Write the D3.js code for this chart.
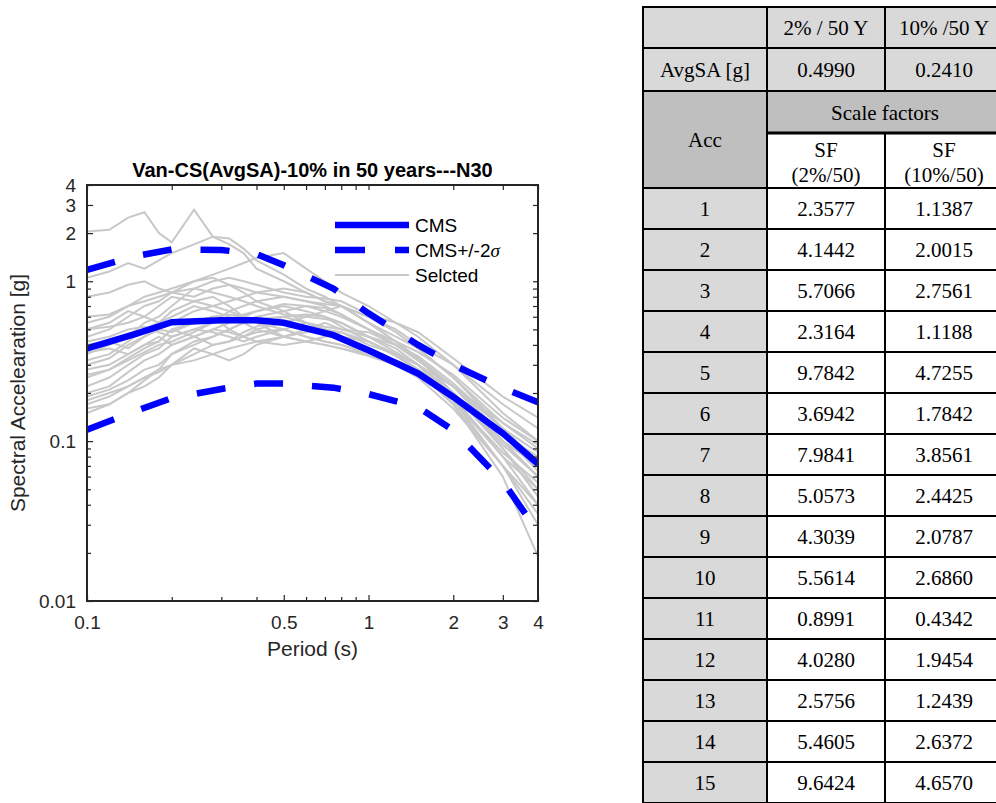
<!DOCTYPE html>
<html>
<head>
<meta charset="utf-8">
<script src="https://cdn.jsdelivr.net/npm/d3@7"></script>
<style>
  body { margin: 0; background: #fff; }
  svg { display: block; }
</style>
</head>
<body>
<div id="viz"></div>
<script>
var width = 996;
var height = 803;

// chart data
var cmsPeriods = [0.1, 0.15, 0.2, 0.3, 0.4, 0.5, 0.75, 1, 1.5, 2, 3, 4];
var cmsMean  = [0.38, 0.47, 0.555, 0.57, 0.57, 0.55, 0.46, 0.37, 0.265, 0.189, 0.112, 0.072];
var cmsUpper = [1.18, 1.44, 1.58, 1.57, 1.48, 1.26, 0.90, 0.63, 0.40, 0.30, 0.215, 0.175];
var cmsLower = [0.118, 0.155, 0.186, 0.212, 0.229, 0.229, 0.216, 0.197, 0.163, 0.117, 0.056, 0.027];

var periods = [0.1, 0.12, 0.14, 0.16, 0.18, 0.2, 0.24, 0.28, 0.32, 0.36, 0.4, 0.5, 0.6, 0.7, 0.8, 1.0, 1.25, 1.5, 2.0, 3.0, 4.0];
var selected = [
  [2.05, 2.1, 2.5, 2.7, 2.0, 1.75, 2.8, 1.9, 1.7, 1.5, 1.2, 1.0, 0.85, 0.75, 0.7, 0.55, 0.42, 0.33, 0.2, 0.1, 0.06],
  [1.05, 1.15, 1.3, 1.2, 1.35, 1.5, 1.7, 1.9, 1.85, 1.6, 1.35, 1.1, 0.9, 0.8, 0.7, 0.55, 0.45, 0.38, 0.25, 0.12, 0.07],
  [0.55, 0.6, 0.7, 0.8, 0.85, 0.9, 1.0, 1.1, 1.2, 1.3, 1.4, 1.5, 1.2, 1.0, 0.85, 0.7, 0.55, 0.45, 0.3, 0.15, 0.1],
  [0.45, 0.5, 0.6, 0.7, 0.75, 0.85, 1.0, 1.05, 0.95, 0.9, 0.85, 0.8, 0.75, 0.72, 0.7, 0.6, 0.5, 0.4, 0.3, 0.17, 0.12],
  [0.35, 0.4, 0.45, 0.55, 0.6, 0.7, 0.9, 1.0, 1.05, 1.0, 0.95, 0.85, 0.8, 0.78, 0.75, 0.62, 0.55, 0.48, 0.33, 0.19, 0.14],
  [0.6, 0.62, 0.7, 0.75, 0.8, 0.85, 0.9, 0.85, 0.8, 0.75, 0.7, 0.62, 0.6, 0.58, 0.55, 0.45, 0.4, 0.32, 0.22, 0.11, 0.065],
  [0.3, 0.33, 0.4, 0.45, 0.5, 0.55, 0.65, 0.7, 0.75, 0.8, 0.85, 0.9, 0.85, 0.75, 0.7, 0.55, 0.42, 0.33, 0.2, 0.09, 0.05],
  [0.25, 0.28, 0.33, 0.38, 0.42, 0.5, 0.55, 0.6, 0.62, 0.6, 0.58, 0.55, 0.6, 0.65, 0.7, 0.6, 0.48, 0.38, 0.25, 0.13, 0.09],
  [0.2, 0.22, 0.27, 0.32, 0.35, 0.4, 0.45, 0.5, 0.55, 0.6, 0.65, 0.72, 0.7, 0.65, 0.6, 0.5, 0.4, 0.32, 0.22, 0.1, 0.06],
  [0.18, 0.2, 0.22, 0.25, 0.28, 0.3, 0.35, 0.4, 0.42, 0.45, 0.5, 0.55, 0.5, 0.48, 0.45, 0.42, 0.35, 0.3, 0.2, 0.09, 0.045],
  [0.16, 0.17, 0.2, 0.22, 0.25, 0.3, 0.38, 0.35, 0.32, 0.35, 0.4, 0.45, 0.5, 0.55, 0.5, 0.45, 0.38, 0.3, 0.18, 0.07, 0.03],
  [0.4, 0.42, 0.38, 0.45, 0.5, 0.48, 0.55, 0.6, 0.5, 0.45, 0.48, 0.5, 0.45, 0.42, 0.4, 0.35, 0.3, 0.27, 0.17, 0.06, 0.019],
  [0.5, 0.55, 0.65, 0.6, 0.55, 0.6, 0.7, 0.65, 0.6, 0.55, 0.5, 0.45, 0.48, 0.5, 0.45, 0.38, 0.32, 0.28, 0.2, 0.1, 0.07],
  [0.28, 0.3, 0.35, 0.4, 0.45, 0.4, 0.45, 0.5, 0.48, 0.45, 0.42, 0.4, 0.42, 0.45, 0.48, 0.42, 0.35, 0.28, 0.2, 0.11, 0.08],
  [0.22, 0.25, 0.3, 0.35, 0.38, 0.45, 0.5, 0.48, 0.45, 0.42, 0.45, 0.5, 0.55, 0.5, 0.45, 0.38, 0.32, 0.27, 0.19, 0.08, 0.04],
  [0.32, 0.35, 0.42, 0.5, 0.55, 0.65, 0.75, 0.8, 0.7, 0.6, 0.55, 0.45, 0.42, 0.4, 0.38, 0.34, 0.3, 0.26, 0.18, 0.08, 0.05],
  [0.15, 0.17, 0.2, 0.24, 0.28, 0.35, 0.42, 0.45, 0.5, 0.55, 0.6, 0.65, 0.7, 0.68, 0.62, 0.5, 0.42, 0.36, 0.26, 0.14, 0.1],
  [0.42, 0.45, 0.5, 0.52, 0.48, 0.45, 0.5, 0.55, 0.58, 0.62, 0.65, 0.7, 0.65, 0.6, 0.52, 0.42, 0.34, 0.28, 0.18, 0.085, 0.055],
  [0.36, 0.38, 0.35, 0.4, 0.42, 0.5, 0.45, 0.4, 0.42, 0.48, 0.52, 0.6, 0.55, 0.52, 0.5, 0.48, 0.4, 0.33, 0.22, 0.12, 0.085],
  [0.19, 0.21, 0.24, 0.28, 0.3, 0.35, 0.4, 0.45, 0.5, 0.55, 0.58, 0.6, 0.62, 0.6, 0.55, 0.45, 0.36, 0.3, 0.2, 0.095, 0.06],
  [0.5, 0.52, 0.55, 0.6, 0.7, 0.8, 0.75, 0.7, 0.65, 0.6, 0.55, 0.5, 0.45, 0.42, 0.4, 0.36, 0.32, 0.28, 0.17, 0.07, 0.035],
  [0.26, 0.28, 0.32, 0.36, 0.4, 0.42, 0.48, 0.55, 0.65, 0.7, 0.75, 0.8, 0.75, 0.7, 0.62, 0.5, 0.4, 0.34, 0.23, 0.12, 0.075],
  [0.17, 0.19, 0.22, 0.25, 0.27, 0.3, 0.32, 0.35, 0.38, 0.4, 0.42, 0.45, 0.42, 0.4, 0.38, 0.35, 0.3, 0.25, 0.16, 0.07, 0.04],
  [0.8, 0.85, 0.95, 1.0, 0.9, 0.85, 0.8, 0.9, 0.95, 0.85, 0.75, 0.65, 0.55, 0.5, 0.48, 0.4, 0.35, 0.3, 0.22, 0.13, 0.095]
];

var xTicks = [0.1, 0.5, 1, 2, 3, 4];
var xMinor = [0.2, 0.3, 0.4, 0.6, 0.7, 0.8, 0.9];
var yTicks = [0.01, 0.1, 1, 2, 3, 4];
var yMinor = [0.02, 0.03, 0.04, 0.05, 0.06, 0.07, 0.08, 0.09, 0.2, 0.3, 0.4, 0.5, 0.6, 0.7, 0.8, 0.9];

// table data
var hazardLevels = ["2% / 50 Y", "10% /50 Y"];
var avgSA = ["0.4990", "0.2410"];
var sfHeaders = ["(2%/50)", "(10%/50)"];
var accIds = [1, 2, 3, 4, 5, 6, 7, 8, 9, 10, 11, 12, 13, 14, 15];
var sf2 = ["2.3577", "4.1442", "5.7066", "2.3164", "9.7842", "3.6942", "7.9841", "5.0573", "4.3039", "5.5614", "0.8991", "4.0280", "2.5756", "5.4605", "9.6424"];
var sf10 = ["1.1387", "2.0015", "2.7561", "1.1188", "4.7255", "1.7842", "3.8561", "2.4425", "2.0787", "2.6860", "0.4342", "1.9454", "1.2439", "2.6372", "4.6570"];

var sans = "'Liberation Sans', Arial, Helvetica, sans-serif";
var serif = "'Liberation Serif', 'Times New Roman', serif";
var axisColor = "#262626";

var svg = d3.select("#viz").append("svg")
  .attr("width", width)
  .attr("height", height);

// ---------- chart ----------
var plot = {left: 87, right: 538, top: 185, bottom: 601};

var x = d3.scaleLog().domain([0.1, 4]).range([plot.left, plot.right]);
var y = d3.scaleLog().domain([0.01, 4]).range([plot.bottom, plot.top]);

svg.append("clipPath").attr("id", "clip")
  .append("rect")
  .attr("x", plot.left).attr("y", plot.top)
  .attr("width", plot.right - plot.left).attr("height", plot.bottom - plot.top);

var chart = svg.append("g").attr("clip-path", "url(#clip)");

var line = d3.line()
  .x(function(d) { return x(d[0]); })
  .y(function(d) { return y(d[1]); });

chart.selectAll(".sel")
  .data(selected)
  .enter()
  .append("path")
  .attr("class", "sel")
  .attr("d", function(s) { return line(d3.zip(periods, s)); })
  .attr("fill", "none")
  .attr("stroke", "#c8c8c8")
  .attr("stroke-width", 2);

chart.append("path")
  .attr("d", line(d3.zip(cmsPeriods, cmsMean)))
  .attr("fill", "none")
  .attr("stroke", "#0000ff")
  .attr("stroke-width", 6.5);

[cmsUpper, cmsLower].forEach(function(s) {
  chart.append("path")
    .attr("d", line(d3.zip(cmsPeriods, s)))
    .attr("fill", "none")
    .attr("stroke", "#0000ff")
    .attr("stroke-width", 6.5)
    .attr("stroke-dasharray", "29,29");
});

// axes, MATLAB style: box with ticks inside on all sides
function styleAxis(g) {
  g.select(".domain").remove();
  g.selectAll(".tick line").attr("stroke", axisColor).attr("stroke-width", 1.2);
  g.selectAll(".tick text")
    .attr("fill", axisColor)
    .style("font-family", sans)
    .style("font-size", "19px");
}

svg.append("g")
  .attr("transform", "translate(0," + plot.bottom + ")")
  .call(d3.axisBottom(x).tickValues(xTicks).tickFormat(function(d) { return d; })
    .tickSizeInner(-6).tickSizeOuter(0).tickPadding(15))
  .call(styleAxis);
svg.append("g")
  .attr("transform", "translate(0," + plot.bottom + ")")
  .call(d3.axisBottom(x).tickValues(xMinor).tickFormat("").tickSizeInner(-4).tickSizeOuter(0))
  .call(styleAxis);
svg.append("g")
  .attr("transform", "translate(0," + plot.top + ")")
  .call(d3.axisTop(x).tickValues(xTicks.concat(xMinor)).tickFormat("").tickSizeInner(-5).tickSizeOuter(0))
  .call(styleAxis);

svg.append("g")
  .attr("transform", "translate(" + plot.left + ",0)")
  .call(d3.axisLeft(y).tickValues(yTicks).tickFormat(function(d) { return d; })
    .tickSizeInner(-6).tickSizeOuter(0).tickPadding(11))
  .call(styleAxis);
svg.append("g")
  .attr("transform", "translate(" + plot.left + ",0)")
  .call(d3.axisLeft(y).tickValues(yMinor).tickFormat("").tickSizeInner(-4).tickSizeOuter(0))
  .call(styleAxis);
svg.append("g")
  .attr("transform", "translate(" + plot.right + ",0)")
  .call(d3.axisRight(y).tickValues(yTicks.concat(yMinor)).tickFormat("").tickSizeInner(-5).tickSizeOuter(0))
  .call(styleAxis);

svg.append("rect")
  .attr("x", plot.left).attr("y", plot.top)
  .attr("width", plot.right - plot.left).attr("height", plot.bottom - plot.top)
  .attr("fill", "none")
  .attr("stroke", axisColor)
  .attr("stroke-width", 2);

// titles
svg.append("text")
  .attr("x", (plot.left + plot.right) / 2)
  .attr("y", 177)
  .attr("text-anchor", "middle")
  .style("font-family", sans)
  .style("font-size", "20px")
  .style("font-weight", "bold")
  .attr("fill", "#000")
  .text("Van-CS(AvgSA)-10% in 50 years---N30");

svg.append("text")
  .attr("x", (plot.left + plot.right) / 2)
  .attr("y", 656)
  .attr("text-anchor", "middle")
  .style("font-family", sans)
  .style("font-size", "21px")
  .attr("fill", axisColor)
  .text("Period (s)");

svg.append("text")
  .attr("transform", "translate(25," + (plot.top + plot.bottom) / 2 + ") rotate(-90)")
  .attr("text-anchor", "middle")
  .style("font-family", sans)
  .style("font-size", "21px")
  .attr("fill", axisColor)
  .text("Spectral Accelearation [g]");

// legend
var legend = svg.append("g").attr("transform", "translate(335,0)");
var legendItems = [
  {label: "CMS", y: 225, color: "#0000ff", w: 6.5, dash: null},
  {label: "CMS+/-2", y: 250, color: "#0000ff", w: 6.5, dash: "30,30"},
  {label: "Selcted", y: 275, color: "#c8c8c8", w: 2, dash: null}
];
legendItems.forEach(function(d) {
  legend.append("line")
    .attr("x1", 0).attr("x2", 74)
    .attr("y1", d.y).attr("y2", d.y)
    .attr("stroke", d.color)
    .attr("stroke-width", d.w)
    .attr("stroke-dasharray", d.dash);
  var t = legend.append("text")
    .attr("x", 80)
    .attr("y", d.y + 7)
    .style("font-family", sans)
    .style("font-size", "19px")
    .attr("fill", "#000")
    .text(d.label);
  if (d.label == "CMS+/-2") {
    t.append("tspan").style("font-style", "italic").style("font-family", serif).text("σ");
  }
});

// ---------- table ----------
var colX = [643, 767, 885, 1003];
var rowTop = [7, 48, 91, 133, 188];
var rowH = 41;
var lightGray = "#d9d9d9";
var darkGray = "#bfbfbf";

var table = svg.append("g");

function cell(x0, y0, x1, y1, fill) {
  table.append("rect")
    .attr("x", x0).attr("y", y0)
    .attr("width", x1 - x0).attr("height", y1 - y0)
    .attr("fill", fill)
    .attr("stroke", "#000")
    .attr("stroke-width", 2);
}
function label(cx, cy, txt) {
  table.append("text")
    .attr("x", cx).attr("y", cy)
    .attr("dy", "0.35em")
    .attr("text-anchor", "middle")
    .style("font-family", serif)
    .style("font-size", "21px")
    .attr("fill", "#000")
    .text(txt);
}
function mid(i) { return (colX[i] + colX[i + 1]) / 2; }

// header rows
for (var c = 0; c < 3; c++) {
  cell(colX[c], rowTop[0], colX[c + 1], rowTop[1], lightGray);
  cell(colX[c], rowTop[1], colX[c + 1], rowTop[2], lightGray);
}
label(mid(1), 28, hazardLevels[0]);
label(mid(2), 28, hazardLevels[1]);
label(mid(0), 70, "AvgSA [g]");
label(mid(1), 70, avgSA[0]);
label(mid(2), 70, avgSA[1]);

cell(colX[0], rowTop[2], colX[1], rowTop[4], darkGray);
label(mid(0), 140, "Acc");
cell(colX[1], rowTop[2], colX[3], rowTop[3], darkGray);
label((colX[1] + colX[3]) / 2, 113, "Scale factors");
for (var c = 1; c < 3; c++) {
  cell(colX[c], rowTop[3], colX[c + 1], rowTop[4], "#fff");
  label(mid(c), 150, "SF");
  label(mid(c), 175, sfHeaders[c - 1]);
}
table.append("line")
  .attr("x1", colX[1]).attr("x2", colX[3])
  .attr("y1", rowTop[3]).attr("y2", rowTop[3])
  .attr("stroke", "#000").attr("stroke-width", 3);

// data rows
accIds.forEach(function(id, i) {
  var y0 = rowTop[4] + i * rowH;
  cell(colX[0], y0, colX[1], y0 + rowH, lightGray);
  cell(colX[1], y0, colX[2], y0 + rowH, "#fff");
  cell(colX[2], y0, colX[3], y0 + rowH, "#fff");
  label(mid(0), y0 + rowH / 2, id);
  label(mid(1), y0 + rowH / 2, sf2[i]);
  label(mid(2), y0 + rowH / 2, sf10[i]);
});
</script>
</body>
</html>
